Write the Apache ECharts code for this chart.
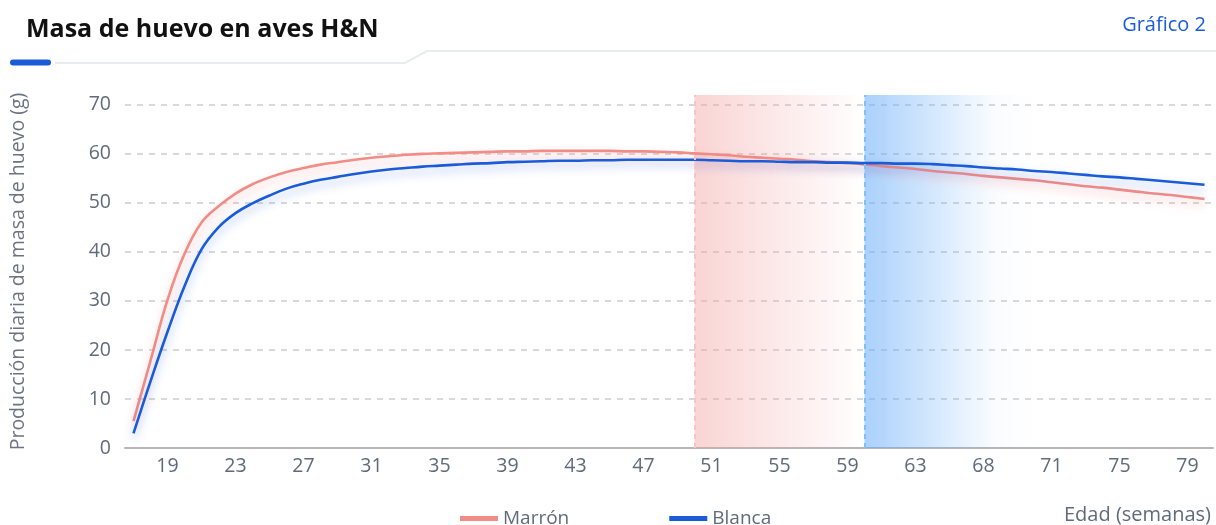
<!DOCTYPE html>
<html>
<head>
<meta charset="utf-8">
<script src="https://cdn.jsdelivr.net/npm/echarts@6/dist/echarts.min.js"></script>
<style>
  html, body { margin: 0; padding: 0; background: #fff; }
  #chart { width: 1216px; height: 525px; }
</style>
</head>
<body>
<div id="chart"></div>
<script>
// Age in weeks (category labels as in source, incl. its "68" label)
const weeks = [17,18,19,20,21,22,23,24,25,26,27,28,29,30,31,32,33,34,35,36,37,38,39,40,41,42,43,44,45,46,47,48,49,50,
  51,52,53,54,55,56,57,58,59,60,61,62,63,64,65,66,68,68,69,70,71,72,73,74,75,76,77,78,79,80];

const marron = [5.5,17.8,30.2,39.6,46.0,49.3,51.9,53.8,55.2,56.3,57.1,57.8,58.3,58.8,59.2,59.5,59.8,60.0,60.1,60.2,
  60.3,60.4,60.5,60.5,60.6,60.6,60.6,60.6,60.6,60.5,60.5,60.4,60.3,60.1,
  59.9,59.7,59.4,59.2,59.0,58.8,58.5,58.3,58.1,57.85,57.5,57.2,56.9,56.5,56.2,55.9,55.5,55.2,54.9,54.6,54.2,53.8,53.4,53.1,52.7,52.3,51.9,51.6,51.2,50.8];

const blanca = [3.0,13.6,23.7,33.0,40.5,45.0,47.9,49.9,51.5,52.9,53.9,54.7,55.3,55.9,56.4,56.8,57.1,57.4,57.6,57.8,
  58.0,58.1,58.3,58.4,58.5,58.6,58.6,58.7,58.7,58.8,58.8,58.8,58.8,58.8,
  58.7,58.6,58.5,58.5,58.4,58.3,58.3,58.2,58.2,58.1,58.1,58.0,58.0,57.9,57.7,57.5,57.2,57.0,56.8,56.5,56.3,56.0,55.7,55.4,55.2,54.9,54.6,54.3,54.0,53.7];

const yTicks = [0,10,20,30,40,50,60,70];
const seriesNames = ['Marrón', 'Blanca'];
const bandPink = [33, 43];   // category indices: week 50 -> week 60
const bandBlue = [43, 53];   // week 60 -> week 70

const FONT = "'Open Sans', 'Noto Sans', sans-serif";
const PINK = '#f28c86';
const BLUE = '#1a5cd8';
const GREY = '#5f6b7a';

const chart = echarts.init(document.getElementById('chart'), null, { renderer: 'canvas' });
chart.setOption({
  animation: false,
  textStyle: { fontFamily: FONT },
  title: [
    { text: 'Masa de huevo en aves H&N', left: 21, top: 12,
      textStyle: { fontFamily: FONT, fontSize: 25, fontWeight: 'bold', color: '#111' } },
    { text: 'Gráfico 2', right: 5, top: 10,
      textStyle: { fontFamily: FONT, fontSize: 20, fontWeight: 'normal', color: BLUE } }
  ],
  graphic: [
    { type: 'polyline', silent: true, z: 0,
      shape: { points: [[55, 63], [405, 63], [427, 51], [1216, 51]] },
      style: { stroke: '#e8ecf1', lineWidth: 2, fill: null } },
    { type: 'rect', silent: true,
      shape: { x: 10, y: 59.5, width: 41, height: 6, r: 3 },
      style: { fill: BLUE } }
  ],
  legend: {
    data: seriesNames,
    left: 455, top: 504,
    icon: 'rect', itemWidth: 38, itemHeight: 5, itemGap: 100,
    textStyle: { fontFamily: FONT, fontSize: 19, color: GREY }
  },
  grid: { left: 122, right: 3, top: 95, bottom: 76, containLabel: false },
  xAxis: {
    type: 'category',
    data: weeks,
    boundaryGap: true,
    name: 'Edad (semanas)',
    nameLocation: 'end',
    nameGap: -2,
    nameTextStyle: { fontFamily: FONT, fontSize: 20, color: GREY, align: 'right', verticalAlign: 'top', padding: [57, 0, 0, 0] },
    axisLine: { lineStyle: { color: '#b4b6ba', width: 2 } },
    axisTick: { show: false },
    axisLabel: {
      interval: (i) => i % 4 === 2,
      color: GREY, fontSize: 19.5, fontFamily: FONT, margin: 8
    },
    splitLine: { show: false }
  },
  yAxis: {
    type: 'value',
    min: 0, max: 72,
    name: 'Producción diaria de masa de huevo (g)',
    nameLocation: 'middle',
    nameGap: 97,
    nameTextStyle: { fontFamily: FONT, fontSize: 19.5, color: '#6b7480' },
    axisLine: { show: false },
    axisTick: { show: false, customValues: yTicks },
    axisLabel: { customValues: yTicks, color: GREY, fontSize: 19.5, fontFamily: FONT, margin: 14 },
    splitLine: { lineStyle: { color: '#d9d9db', width: 2, type: [6, 6] } }
  },
  series: [
    {
      name: seriesNames[0], type: 'line', data: marron, smooth: 0.4, showSymbol: false,
      z: 3,
      lineStyle: { color: PINK, width: 2.6, shadowColor: 'rgba(242,120,120,0.45)', shadowBlur: 10, shadowOffsetY: 5 },
      itemStyle: { color: PINK },
      markArea: {
        silent: true,
        data: [
          [ { xAxis: bandPink[0], itemStyle: { color: { type: 'linear', x: 0, y: 0, x2: 1, y2: 0,
                colorStops: [ { offset: 0, color: 'rgba(243,160,160,0.45)' }, { offset: 1, color: 'rgba(243,160,160,0.0)' } ] } } },
            { xAxis: bandPink[1] } ],
          [ { xAxis: bandBlue[0], itemStyle: { color: { type: 'linear', x: 0, y: 0, x2: 1, y2: 0,
                colorStops: [ { offset: 0, color: 'rgba(100,170,250,0.55)' }, { offset: 0.75, color: 'rgba(100,170,250,0.04)' }, { offset: 1, color: 'rgba(100,170,250,0.0)' } ] } } },
            { xAxis: bandBlue[1] } ]
        ]
      },
      markLine: {
        silent: true, symbol: 'none', label: { show: false },
        data: [
          { xAxis: bandPink[0], lineStyle: { color: '#f6c4c4', width: 2, type: [5, 4] } },
          { xAxis: bandBlue[0], lineStyle: { color: '#7fc1f7', width: 2, type: [5, 4] } }
        ]
      }
    },
    {
      name: seriesNames[1], type: 'line', data: blanca, smooth: 0.4, showSymbol: false,
      z: 4,
      lineStyle: { color: BLUE, width: 2.6, shadowColor: 'rgba(30,90,220,0.4)', shadowBlur: 10, shadowOffsetY: 5 },
      itemStyle: { color: BLUE }
    }
  ]
});
</script>
</body>
</html>
